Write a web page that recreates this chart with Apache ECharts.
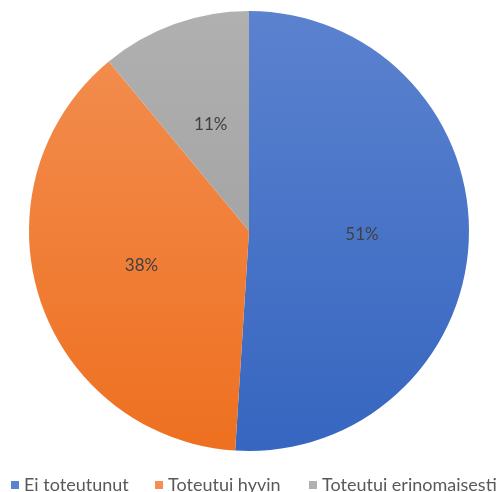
<!DOCTYPE html>
<html><head><meta charset="utf-8">
<script src="https://cdn.jsdelivr.net/npm/echarts@6/dist/echarts.min.js"></script>
<style>html,body{margin:0;padding:0;background:#fff}#c{width:499px;height:492px}</style>
</head><body><div id="c"></div>
<script>
var categories = ["Ei toteutunut", "Toteutui hyvin", "Toteutui erinomaisesti"];
var values = [51, 38, 11];
var colorsTop = ["#5B82CF", "#F38F52", "#B0B0B0"];
var colorsBottom = ["#3666C0", "#EE7020", "#9A9A9A"];

var chart = echarts.init(document.getElementById('c'));
function grad(i){
  return new echarts.graphic.LinearGradient(0, 12, 0, 451, [
    {offset:0, color: colorsTop[i]}, {offset:1, color: colorsBottom[i]}], true);
}
var legendLefts = [11, 155, 309];
var legends = categories.map(function(n, i){
  return {
    data: [n], left: legendLefts[i], top: 476, itemWidth: 8, itemHeight: 8, itemGap: 4,
    icon: 'rect', selectedMode: false, padding: [0, 0, 0, 0],
    textStyle: {color: '#595959', fontSize: 18, fontFamily: 'Lato', padding: [0,0,0,0]}
  };
});
chart.setOption({
  animation: false,
  legend: legends,
  series: [{
    type: 'pie',
    center: [249, 231],
    radius: [0, 220],
    startAngle: 90,
    clockwise: true,
    data: categories.map(function(n, i){
      return {name: n, value: values[i], itemStyle: {color: grad(i)}};
    }),
    itemStyle: {borderWidth: 0},
    label: {
      show: true, position: 'inside',
      formatter: function(p){ return p.value + '%'; },
      color: '#404040', fontSize: 17, fontFamily: 'Lato'
    },
    labelLine: {show: false},
    emphasis: {disabled: true}
  }]
});
</script></body></html>
